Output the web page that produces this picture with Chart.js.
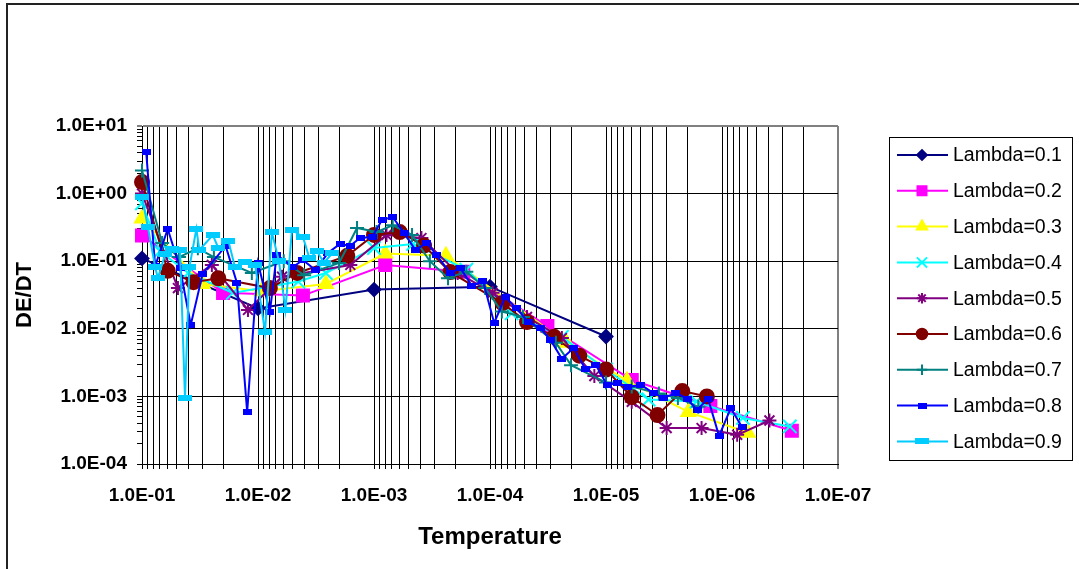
<!DOCTYPE html>
<html>
<head>
<meta charset="utf-8">
<title>DE/DT vs Temperature</title>
<script src="https://cdn.jsdelivr.net/npm/chart.js@4.4.1/dist/chart.umd.min.js"></script>
<style>
  html, body { margin: 0; padding: 0; background: #fff; overflow: hidden; }
  .chart-wrap { position: relative; width: 1079px; height: 569px; }
</style>
</head>
<body>
<div class="chart-wrap"><canvas id="chart"></canvas></div>
<script>
// Temperature (x) and DE/DT (y) for each lambda
const tempL1 = [1e-1, 1e-2, 1e-3, 1e-4, 1e-5];
const dedtL1 = [0.11, 0.02, 0.038, 0.042, 0.0077];

const tempL2 = [1e-1, 2e-2, 4.1e-3, 8e-4, 1.7e-4, 3.2e-5, 6e-6, 1.26e-6, 2.5e-7];
const dedtL2 = [0.24, 0.034, 0.031, 0.088, 0.07, 0.011, 0.00175, 7.2e-4, 3.1e-4];

const tempL3 = [1e-1, 3e-2, 9.3e-3, 2.6e-3, 8e-4, 2.4e-4, 2.2e-5, 6.6e-6, 1.95e-6, 6e-7];
const dedtL3 = [0.43, 0.046, 0.036, 0.046, 0.13, 0.12, 0.0062, 0.0017, 5.9e-4, 2.9e-4];

const tempL4 = [1e-1, 7e-2, 4e-2, 1.65e-2, 4.5e-3, 2.6e-3, 1e-3, 4.6e-4, 1.6e-4, 6.5e-5, 2.4e-5, 1e-5, 4.3e-6, 1.66e-6, 6.6e-7, 2.6e-7];
const dedtL4 = [0.72, 0.14, 0.067, 0.034, 0.05, 0.067, 0.157, 0.18, 0.075, 0.017, 0.0076, 0.0025, 9e-4, 8.4e-4, 4.8e-4, 3.6e-4];

const tempL5 = [1e-1, 4.9e-2, 2.5e-2, 1.22e-2, 6.2e-3, 1.6e-3, 7.8e-4, 3.9e-4, 1.9e-4, 9.5e-5, 4.8e-5, 2.4e-5, 1.26e-5, 6e-6, 3e-6, 1.5e-6, 7.4e-7, 3.9e-7];
const dedtL5 = [1.0, 0.04, 0.088, 0.019, 0.059, 0.088, 0.245, 0.22, 0.067, 0.034, 0.015, 0.0073, 0.002, 8.3e-4, 3.4e-4, 3.4e-4, 2.7e-4, 4.4e-4];

const tempL6 = [1e-1, 6e-2, 3.6e-2, 2.2e-2, 7.9e-3, 4.6e-3, 1.7e-3, 1e-3, 6e-4, 3.7e-4, 2.2e-4, 7.8e-5, 4.8e-5, 2.8e-5, 1.7e-5, 1e-5, 6e-6, 3.6e-6, 2.2e-6, 1.35e-6];
const dedtL6 = [1.48, 0.072, 0.049, 0.056, 0.04, 0.067, 0.12, 0.245, 0.27, 0.17, 0.069, 0.024, 0.0126, 0.0076, 0.004, 0.0025, 9.8e-4, 5.3e-4, 0.0012, 0.001];

const tempL7 = [1e-1, 6.7e-2, 4.8e-2, 3.3e-2, 2.4e-2, 1.13e-2, 6e-3, 4e-3, 2e-3, 1.4e-3, 9.5e-4, 6.9e-4, 4.7e-4, 3.3e-4, 2.3e-4, 1.6e-4, 1.1e-4, 7.9e-5, 5.2e-5, 2.7e-5, 2e-5, 1e-5, 6e-6, 3.5e-6, 2.4e-6, 1.6e-6];
const dedtL7 = [2.2, 0.186, 0.115, 0.155, 0.115, 0.067, 0.1, 0.062, 0.094, 0.31, 0.27, 0.34, 0.245, 0.1, 0.056, 0.07, 0.04, 0.018, 0.015, 0.0062, 0.0029, 0.0016, 0.0014, 0.0011, 9.5e-4, 7e-4];

const tempL8 = [0.092, 0.077, 0.06, 0.047, 0.038, 0.03, 0.019, 0.0152, 0.0124, 0.01, 0.0079, 0.0069, 0.005, 0.0041, 0.0032, 0.0025, 0.00196, 0.00161, 0.00132, 0.00104,
  8.5e-4, 6.9e-4, 5.5e-4, 4.4e-4, 3.5e-4, 2.9e-4, 2.2e-4, 1.8e-4, 1.43e-4, 1.15e-4, 9.2e-5, 7.4e-5, 5.9e-5, 4.7e-5, 3.7e-5, 3e-5, 2.4e-5, 1.9e-5, 1.5e-5, 1.22e-5,
  9.8e-6, 7.9e-6, 6.5e-6, 5e-6, 3.9e-6, 3.2e-6, 2.5e-6, 2e-6, 1.64e-6, 1.32e-6, 1.06e-6, 8.4e-7, 6.7e-7];
const dedtL8 = [4.1, 0.085, 0.3, 0.079, 0.0114, 0.065, 0.168, 0.048, 5.9e-4, 0.094, 0.0177, 0.124, 0.082, 0.104, 0.074, 0.132, 0.18, 0.168, 0.22, 0.228,
  0.41, 0.45, 0.26, 0.147, 0.186, 0.124, 0.067, 0.079, 0.043, 0.051, 0.0122, 0.0295, 0.02, 0.0126, 0.0103, 0.0068, 0.0036, 0.0052, 0.0025, 0.0029,
  0.00148, 0.00158, 0.00138, 0.00148, 0.00112, 9.5e-4, 0.00112, 9.3e-4, 6.3e-4, 9.3e-4, 2.6e-4, 6.7e-4, 3.5e-4];

const tempL9 = [1e-1, 0.089, 0.077, 0.073, 0.063, 0.055, 0.047, 0.0426, 0.039, 0.034, 0.032, 0.0245, 0.022, 0.018, 0.0158, 0.0129, 0.0106, 0.0087, 0.0076, 0.0066, 0.0058, 0.0051, 0.0041, 0.0036, 0.0031, 0.0027, 0.0023];
const dedtL9 = [0.89, 0.32, 0.082, 0.056, 0.128, 0.15, 0.147, 9.5e-4, 0.082, 0.3, 0.147, 0.244, 0.157, 0.2, 0.082, 0.097, 0.089, 0.009, 0.27, 0.1, 0.019, 0.29, 0.228, 0.11, 0.14, 0.095, 0.13];

const seriesLabels = ['Lambda=0.1', 'Lambda=0.2', 'Lambda=0.3', 'Lambda=0.4', 'Lambda=0.5', 'Lambda=0.6', 'Lambda=0.7', 'Lambda=0.8', 'Lambda=0.9'];
const xTickExp = [-1, -7];   // 1.0E-01 ... 1.0E-07
const yTickExp = [-4, 1];    // 1.0E-04 ... 1.0E+01

// small dash-like markers used by Excel for the last two series
function dashMarker(w, h, color) {
  const c = document.createElement('canvas');
  c.width = w; c.height = h;
  const g = c.getContext('2d');
  g.fillStyle = color;
  g.fillRect(0, 0, w, h);
  return c;
}

const styles = [
  { color: '#000080', point: 'rectRot', r: 6.5 },
  { color: '#FF00FF', point: 'rect', r: 8.5 },
  { color: '#FFFF00', point: 'triangle', r: 8 },
  { color: '#00FFFF', point: 'crossRot', r: 9.5 },
  { color: '#800080', point: 'star', r: 7 },
  { color: '#800000', point: 'circle', r: 7 },
  { color: '#008080', point: 'cross', r: 7 },
  { color: '#0000FF', point: dashMarker(9, 6, '#0000FF'), r: 5 },
  { color: '#00CCFF', point: dashMarker(14, 6, '#00CCFF'), r: 7 }
];

const temps = [tempL1, tempL2, tempL3, tempL4, tempL5, tempL6, tempL7, tempL8, tempL9];
const dedts = [dedtL1, dedtL2, dedtL3, dedtL4, dedtL5, dedtL6, dedtL7, dedtL8, dedtL9];

const datasets = seriesLabels.map((label, i) => ({
  label: label,
  data: temps[i].map((t, j) => ({ x: t, y: dedts[i][j] })),
  borderColor: styles[i].color,
  backgroundColor: styles[i].color,
  borderWidth: 2,
  pointStyle: styles[i].point,
  pointRadius: styles[i].r,
  pointHoverRadius: styles[i].r,
  pointBorderWidth: 2,
  pointBackgroundColor: styles[i].color,
  pointBorderColor: styles[i].color,
  tension: 0,
  clip: false,
  order: 9 - i
}));

function logTicks(lo, hi) {
  const out = [];
  for (let e = lo; e < hi; e++) {
    for (let k = 1; k < 10; k++) out.push({ value: k * Math.pow(10, e) });
  }
  out.push({ value: Math.pow(10, hi) });
  return out;
}

function isDecade(v) {
  const l = Math.log10(v);
  return Math.abs(l - Math.round(l)) < 1e-9;
}

function sciLabel(v) {
  const e = Math.round(Math.log10(v));
  return '1.0E' + (e < 0 ? '-' : '+') + String(Math.abs(e)).padStart(2, '0');
}

// the far edge of each axis doubles as the grey plot-area border
function isEdge(v, exp) {
  return Math.abs(Math.log10(v) - exp) < 1e-9;
}

const FONT = "'Liberation Sans', Arial, sans-serif";

// outer frame around the whole chart (only left and top edges are visible)
const framePlugin = {
  id: 'frame',
  beforeDraw(chart) {
    const ctx = chart.ctx;
    ctx.save();
    ctx.strokeStyle = '#222';
    ctx.lineWidth = 2;
    ctx.beginPath();
    ctx.moveTo(7, chart.height + 5);
    ctx.lineTo(7, 4);
    ctx.lineTo(chart.width + 5, 4);
    ctx.stroke();
    ctx.restore();
  }
};

// Excel-style legend box with line + marker samples
const legendPlugin = {
  id: 'boxLegend',
  afterDraw(chart) {
    const ctx = chart.ctx;
    const box = { left: 889.5, top: 137.5, width: 183, height: 323 };
    ctx.save();
    ctx.strokeStyle = '#000';
    ctx.lineWidth = 1;
    ctx.strokeRect(box.left, box.top, box.width, box.height);
    chart.data.datasets.forEach((ds, i) => {
      const y = 155 + i * 35.8;
      ctx.strokeStyle = ds.borderColor;
      ctx.fillStyle = ds.borderColor;
      ctx.lineWidth = 2;
      ctx.beginPath();
      ctx.moveTo(897, y);
      ctx.lineTo(948, y);
      ctx.stroke();
      Chart.helpers.drawPoint(ctx, {
        pointStyle: ds.pointStyle,
        rotation: 0,
        radius: ds.pointRadius * 0.75,
        borderWidth: 2
      }, 922, y);
      ctx.fillStyle = '#000';
      ctx.font = '19.5px ' + FONT;
      ctx.textAlign = 'left';
      ctx.textBaseline = 'middle';
      ctx.fillText(ds.label, 953, y + 1);
    });
    ctx.restore();
  }
};

new Chart(document.getElementById('chart'), {
  type: 'line',
  data: { datasets: datasets },
  options: {
    responsive: true,
    maintainAspectRatio: false,
    animation: false,
    devicePixelRatio: 1,
    layout: { padding: { top: 126, right: 241, bottom: 0, left: 0 } },
    plugins: {
      legend: { display: false },
      tooltip: { enabled: false }
    },
    scales: {
      x: {
        type: 'logarithmic',
        position: 'bottom',
        reverse: true,
        min: Math.pow(10, xTickExp[1]),
        max: Math.pow(10, xTickExp[0]),
        afterBuildTicks: (s) => { s.ticks = logTicks(xTickExp[1], xTickExp[0]); },
        afterFit: (s) => { s.height = 105; },
        ticks: {
          autoSkip: false,
          maxRotation: 0,
          minRotation: 0,
          padding: 15,
          color: '#000',
          font: { family: FONT, size: 19, weight: 'bold' },
          callback: (v) => isDecade(v) ? sciLabel(v) : ''
        },
        grid: {
          color: (c) => (c.tick && isEdge(c.tick.value, xTickExp[1])) ? '#808080' : '#000',
          lineWidth: (c) => (c.tick && isEdge(c.tick.value, xTickExp[1])) ? 2 : 1,
          tickLength: 5,
          tickColor: '#000',
          tickWidth: 1
        },
        border: { color: '#000', width: 1 },
        title: {
          display: true,
          text: 'Temperature',
          color: '#000',
          font: { family: FONT, size: 24, weight: 'bold' },
          padding: { top: 0, bottom: 17 }
        }
      },
      y: {
        type: 'logarithmic',
        min: Math.pow(10, yTickExp[0]),
        max: Math.pow(10, yTickExp[1]),
        afterBuildTicks: (s) => { s.ticks = logTicks(yTickExp[0], yTickExp[1]); },
        afterFit: (s) => { s.width = 142; },
        ticks: {
          autoSkip: false,
          padding: 10,
          color: '#000',
          font: { family: FONT, size: 19, weight: 'bold' },
          callback: (v) => isDecade(v) ? sciLabel(v) : ''
        },
        grid: {
          color: (c) => {
            if (!c.tick || !isDecade(c.tick.value)) return 'rgba(0,0,0,0)';
            return isEdge(c.tick.value, yTickExp[1]) ? '#808080' : '#000';
          },
          lineWidth: (c) => (c.tick && isEdge(c.tick.value, yTickExp[1])) ? 2 : 1,
          tickColor: '#000',
          tickWidth: 1,
          tickLength: 5
        },
        border: { color: '#000', width: 1 },
        title: {
          display: true,
          text: 'DE/DT',
          color: '#000',
          font: { family: FONT, size: 22, weight: 'bold' },
          padding: { top: 12, bottom: 0 }
        }
      }
    }
  },
  plugins: [framePlugin, legendPlugin]
});
</script>
</body>
</html>
